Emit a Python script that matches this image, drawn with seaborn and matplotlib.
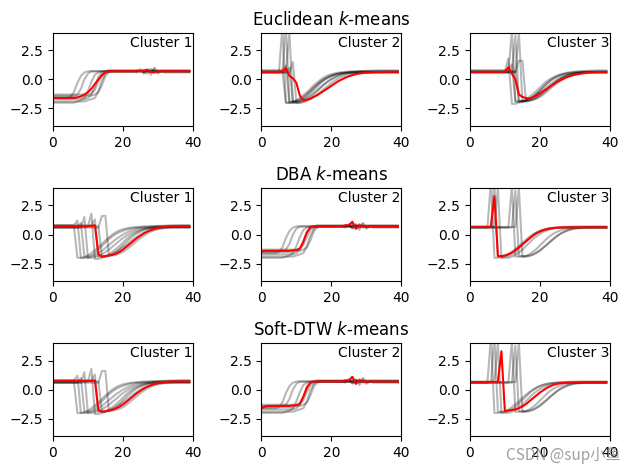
import numpy as np
import pandas as pd
import seaborn as sns
import matplotlib
matplotlib.use("Agg")
import matplotlib.pyplot as plt

# time axis of every series (40 samples)
t = np.arange(40)

# step-up shaped series
up1 = [-1.6,-1.6,-1.6,-1.6,-1.6,-1.5,-1.1,-0.3,0.3,0.6,0.7,0.7,0.7,0.7,0.7,0.7,0.7,0.7,0.7,0.7,0.7,0.7,0.7,0.7,0.7,0.8,0.6,0.8,0.7,0.7,0.7,0.7,0.7,0.7,0.7,0.7,0.7,0.7,0.7,0.7]
up2 = [-1.4,-1.4,-1.4,-1.4,-1.4,-1.4,-1.4,-1.3,-0.8,0.0,0.5,0.7,0.7,0.7,0.7,0.7,0.7,0.7,0.7,0.7,0.7,0.7,0.7,0.7,0.6,0.9,0.5,0.7,0.8,0.6,0.7,0.7,0.7,0.7,0.7,0.7,0.7,0.7,0.7,0.7]
up3 = [-1.9,-1.9,-1.9,-1.9,-1.9,-1.9,-1.9,-1.9,-1.8,-1.6,-1.0,-0.2,0.4,0.6,0.7,0.7,0.7,0.7,0.7,0.7,0.7,0.7,0.7,0.7,0.7,0.7,0.7,0.9,0.4,1.0,0.6,0.7,0.7,0.7,0.7,0.7,0.7,0.7,0.7,0.7]
up4 = [-1.7,-1.7,-1.7,-1.7,-1.7,-1.7,-1.7,-1.7,-1.7,-1.7,-1.6,-1.3,-0.6,0.2,0.6,0.7,0.8,0.8,0.8,0.8,0.8,0.8,0.8,0.8,0.8,0.7,0.8,0.5,0.9,0.7,0.8,0.8,0.8,0.8,0.8,0.8,0.8,0.8,0.8,0.8]
up5 = [-2.0,-2.0,-2.0,-2.0,-2.0,-2.0,-2.0,-1.9,-1.9,-1.9,-1.8,-1.7,-1.6,-1.0,-0.1,0.5,0.7,0.7,0.7,0.7,0.7,0.7,0.7,0.7,0.7,0.7,0.8,0.7,0.6,0.9,0.5,0.7,0.7,0.7,0.7,0.7,0.7,0.7,0.7,0.7]
up6 = [-1.5,-1.5,-1.5,-1.5,-1.5,-1.5,-1.5,-1.5,-1.5,-1.5,-1.4,-1.4,-1.3,-1.1,-0.5,0.3,0.6,0.7,0.7,0.7,0.7,0.7,0.7,0.7,0.7,0.7,0.7,0.7,0.7,0.7,0.7,0.7,0.6,0.6,0.6,0.6,0.6,0.6,0.6,0.6]
up7 = [-1.3,-1.3,-1.3,-1.3,-1.3,-1.3,-1.3,-1.3,-1.3,-1.3,-1.3,-1.2,-0.9,-0.2,0.4,0.6,0.7,0.7,0.7,0.7,0.7,0.7,0.7,0.7,0.7,0.7,0.6,0.8,0.7,0.7,0.7,0.7,0.7,0.7,0.7,0.7,0.7,0.7,0.7,0.7]

# dip shaped series (small or no spike before the drop)
d1 = [0.7,0.7,0.7,0.7,0.7,0.7,0.7,-2.0,-2.0,-1.95,-1.8,-1.6,-1.35,-1.1,-0.8,-0.5,-0.25,0.0,0.2,0.35,0.45,0.52,0.58,0.62,0.65,0.67,0.7,0.7,0.7,0.7,0.7,0.7,0.7,0.7,0.7,0.7,0.7,0.7,0.7,0.7]
d2 = [0.8,0.8,0.8,0.8,0.8,0.8,0.8,1.2,-2.0,-2.0,-2.0,-1.9,-1.8,-1.6,-1.4,-1.15,-0.9,-0.65,-0.4,-0.2,0.0,0.15,0.3,0.4,0.5,0.57,0.62,0.66,0.7,0.72,0.74,0.75,0.76,0.77,0.78,0.78,0.78,0.78,0.78,0.78]
d3 = [0.6,0.6,0.6,0.6,0.6,0.6,0.6,0.6,1.0,-1.9,-1.9,-1.8,-1.6,-1.3,-1.0,-0.7,-0.4,-0.15,0.05,0.2,0.32,0.42,0.5,0.55,0.58,0.6,0.6,0.6,0.6,0.6,0.6,0.6,0.6,0.6,0.6,0.6,0.6,0.6,0.6,0.6]
d4 = [0.7,0.7,0.7,0.7,0.7,0.7,0.7,0.7,0.7,0.7,0.7,1.8,-2.1,-2.1,-2.0,-1.9,-1.8,-1.65,-1.5,-1.3,-1.1,-0.9,-0.65,-0.4,-0.2,0.0,0.15,0.28,0.38,0.46,0.52,0.56,0.6,0.62,0.64,0.65,0.66,0.67,0.68,0.68]
d5 = [0.8,0.8,0.8,0.8,0.8,0.8,0.8,0.8,0.8,0.8,0.8,0.8,1.3,-1.9,-1.9,-1.85,-1.7,-1.5,-1.25,-1.0,-0.7,-0.4,-0.15,0.05,0.22,0.35,0.45,0.53,0.59,0.64,0.68,0.7,0.72,0.74,0.75,0.76,0.77,0.78,0.78,0.78]
d6 = [0.6,0.6,0.6,0.6,0.6,0.6,0.6,0.6,0.6,0.6,0.6,0.6,0.6,0.6,1.6,1.6,-1.8,-1.8,-1.75,-1.65,-1.5,-1.3,-1.05,-0.8,-0.55,-0.3,-0.1,0.1,0.25,0.37,0.46,0.52,0.56,0.58,0.6,0.6,0.6,0.6,0.6,0.6]
d7 = [0.7,0.7,0.7,0.7,0.7,0.7,0.7,0.7,0.7,0.7,0.7,0.7,0.7,0.7,-1.9,-1.9,-1.85,-1.7,-1.5,-1.25,-0.95,-0.65,-0.35,-0.1,0.1,0.25,0.38,0.47,0.54,0.58,0.61,0.63,0.65,0.66,0.67,0.68,0.68,0.68,0.68,0.68]
d8 = [0.6,0.6,0.6,0.6,0.6,0.6,0.6,0.6,0.6,1.5,-2.0,-2.0,-1.95,-1.85,-1.7,-1.5,-1.3,-1.05,-0.8,-0.55,-0.3,-0.1,0.08,0.22,0.33,0.42,0.49,0.54,0.58,0.6,0.62,0.63,0.64,0.65,0.65,0.65,0.65,0.65,0.65,0.65]

# big spike then dip
s1 = [0.6,0.6,0.6,0.6,0.6,0.6,0.6,4.5,-1.9,-1.9,-1.9,-1.85,-1.7,-1.5,-1.2,-0.9,-0.6,-0.3,-0.05,0.15,0.3,0.4,0.48,0.53,0.57,0.59,0.6,0.6,0.6,0.6,0.6,0.6,0.6,0.6,0.6,0.6,0.6,0.6,0.6,0.6]
s2 = [0.7,0.7,0.7,0.7,0.7,0.7,0.7,0.7,4.0,-2.0,-2.0,-2.0,-1.9,-1.75,-1.55,-1.3,-1.0,-0.7,-0.4,-0.15,0.05,0.22,0.35,0.45,0.52,0.58,0.62,0.65,0.67,0.68,0.69,0.7,0.7,0.7,0.7,0.7,0.7,0.7,0.7,0.7]
s3 = [0.6,0.6,0.6,0.6,0.6,0.6,0.6,0.6,0.6,0.6,0.6,0.6,4.2,-1.9,-1.9,-1.9,-1.85,-1.7,-1.5,-1.25,-0.95,-0.65,-0.35,-0.1,0.1,0.25,0.37,0.45,0.51,0.55,0.58,0.6,0.6,0.6,0.6,0.6,0.6,0.6,0.6,0.6]
s4 = [0.6,0.6,0.6,0.6,0.6,0.6,0.6,0.6,0.6,0.6,0.6,0.6,0.6,3.8,-1.85,-1.85,-1.85,-1.8,-1.7,-1.55,-1.35,-1.1,-0.85,-0.6,-0.35,-0.12,0.08,0.23,0.35,0.44,0.5,0.54,0.57,0.59,0.6,0.6,0.6,0.6,0.6,0.6]
s5 = [0.65,0.65,0.65,0.65,0.65,0.65,0.65,0.65,0.65,0.65,0.65,0.65,0.65,0.65,4.0,-1.9,-1.9,-1.85,-1.75,-1.6,-1.4,-1.15,-0.9,-0.6,-0.35,-0.1,0.1,0.25,0.38,0.47,0.54,0.58,0.61,0.63,0.64,0.65,0.65,0.65,0.65,0.65]
s6 = [0.6,0.6,0.6,0.6,0.6,0.6,4.5,-2.0,-2.0,-1.95,-1.85,-1.7,-1.5,-1.25,-1.0,-0.7,-0.45,-0.2,0.0,0.18,0.32,0.42,0.5,0.55,0.58,0.6,0.6,0.6,0.6,0.6,0.6,0.6,0.6,0.6,0.6,0.6,0.6,0.6,0.6,0.6]

# barycenters (red)
red_e1 = [-1.6,-1.6,-1.6,-1.6,-1.6,-1.6,-1.6,-1.55,-1.45,-1.3,-1.1,-0.8,-0.4,0.0,0.35,0.6,0.7,0.7,0.7,0.7,0.7,0.7,0.7,0.7,0.75,0.7,0.75,0.8,0.65,0.6,0.7,0.7,0.7,0.7,0.7,0.7,0.7,0.7,0.7,0.7]
red_e2 = [0.65,0.65,0.65,0.65,0.65,0.65,0.7,0.95,0.3,0.1,-0.3,-1.4,-1.8,-1.75,-1.65,-1.5,-1.35,-1.15,-0.95,-0.75,-0.55,-0.35,-0.15,0.0,0.15,0.27,0.37,0.45,0.51,0.55,0.58,0.6,0.62,0.63,0.64,0.65,0.65,0.65,0.65,0.65]
red_e3 = [0.65,0.65,0.65,0.65,0.65,0.65,0.65,0.65,0.65,0.65,0.65,1.05,0.5,0.0,-1.3,-1.5,-1.6,-1.65,-1.55,-1.4,-1.2,-1.0,-0.8,-0.6,-0.4,-0.2,-0.05,0.1,0.22,0.32,0.4,0.46,0.51,0.55,0.58,0.6,0.62,0.63,0.63,0.63]
red_d1 = [0.7,0.7,0.7,0.7,0.7,0.7,0.7,0.7,0.7,0.7,0.7,0.75,0.8,-1.7,-1.9,-1.85,-1.8,-1.75,-1.65,-1.5,-1.3,-1.05,-0.8,-0.55,-0.3,-0.1,0.1,0.25,0.38,0.48,0.56,0.62,0.66,0.68,0.7,0.7,0.7,0.7,0.7,0.7]
red_d2 = [-1.45,-1.4,-1.4,-1.4,-1.4,-1.4,-1.4,-1.4,-1.4,-1.35,-1.35,-1.2,-0.6,0.2,0.6,0.7,0.7,0.7,0.7,0.7,0.7,0.7,0.7,0.7,0.8,0.8,1.1,0.5,0.8,0.7,0.7,0.7,0.7,0.7,0.7,0.7,0.7,0.7,0.7,0.65]
red_d3 = [0.65,0.65,0.65,0.65,0.65,0.65,0.65,3.3,-1.85,-1.85,-1.8,-1.7,-1.55,-1.35,-1.1,-0.85,-0.6,-0.35,-0.1,0.1,0.25,0.37,0.46,0.52,0.56,0.59,0.6,0.61,0.62,0.62,0.62,0.62,0.62,0.62,0.62,0.62,0.62,0.62,0.62,0.62]
red_s1 = [0.75,0.75,0.75,0.75,0.75,0.75,0.75,0.75,0.75,0.75,0.75,0.75,0.8,-1.75,-1.9,-1.85,-1.8,-1.72,-1.62,-1.48,-1.28,-1.05,-0.8,-0.55,-0.3,-0.1,0.1,0.25,0.38,0.48,0.56,0.62,0.66,0.68,0.7,0.7,0.7,0.7,0.7,0.7]
red_s2 = [-1.6,-1.45,-1.4,-1.4,-1.4,-1.4,-1.4,-1.4,-1.4,-1.35,-1.35,-1.2,-0.6,0.2,0.6,0.7,0.7,0.7,0.7,0.7,0.7,0.7,0.7,0.7,0.8,0.8,1.1,0.5,0.8,0.7,0.7,0.7,0.7,0.7,0.7,0.7,0.7,0.7,0.7,0.65]
red_s3 = [0.65,0.65,0.65,0.65,0.65,0.65,0.65,0.65,0.65,3.3,-1.85,-1.8,-1.75,-1.7,-1.6,-1.45,-1.25,-1.0,-0.75,-0.5,-0.25,-0.05,0.15,0.3,0.42,0.5,0.55,0.58,0.6,0.61,0.62,0.62,0.62,0.62,0.62,0.62,0.62,0.62,0.62,0.62]

ups = [up1, up2, up3, up4, up5, up6, up7]
dips = [d1, d2, d3, d4, d5, d6, d7, d8]
spikes = [s1, s2, s3, s4, s5, s6]

titles = ["Euclidean $k$-means", "DBA $k$-means", "Soft-DTW $k$-means"]

# members and barycenter of each panel, row by row
panels = [
    [(ups, red_e1), ([d1, d2, d3, d8, s1, s2, s6], red_e2), ([d4, d5, d6, d7, s3, s4, s5], red_e3)],
    [(dips, red_d1), (ups, red_d2), (spikes, red_d3)],
    [(dips, red_s1), (ups, red_s2), (spikes, red_s3)],
]


def to_long(series_list):
    rows = []
    for i, s in enumerate(series_list):
        rows.append(pd.DataFrame({"t": t, "value": s, "series": i}))
    return pd.concat(rows, ignore_index=True)


fig, axes = plt.subplots(3, 3, figsize=(6.3, 4.7), dpi=100)

for r in range(3):
    for c in range(3):
        ax = axes[r, c]
        members, bary = panels[r][c]
        sns.lineplot(data=to_long(members), x="t", y="value", units="series",
                     estimator=None, color="k", alpha=0.28, legend=False, ax=ax)
        sns.lineplot(x=t, y=bary, color="r", ax=ax)
        ax.set_xlim(0, 40)
        ax.set_ylim(-4, 4)
        ax.set_xticks([0, 20, 40])
        ax.set_yticks([-2.5, 0.0, 2.5])
        ax.set_xlabel("")
        ax.set_ylabel("")
        ax.text(0.55, 0.85, "Cluster %d" % (c + 1), transform=ax.transAxes)
        if c == 1:
            ax.set_title(titles[r])

plt.subplots_adjust(left=0.084, right=0.968, top=0.93, bottom=0.072,
                    wspace=0.49, hspace=0.667)

# watermark bottom right
fig.text(0.985, 0.012, "CSDN @sup小鱼", ha="right", va="bottom", color="#888888",
         alpha=0.8, fontsize=11, family=["Noto Sans CJK SC", "DejaVu Sans"])

plt.savefig("out.png")
